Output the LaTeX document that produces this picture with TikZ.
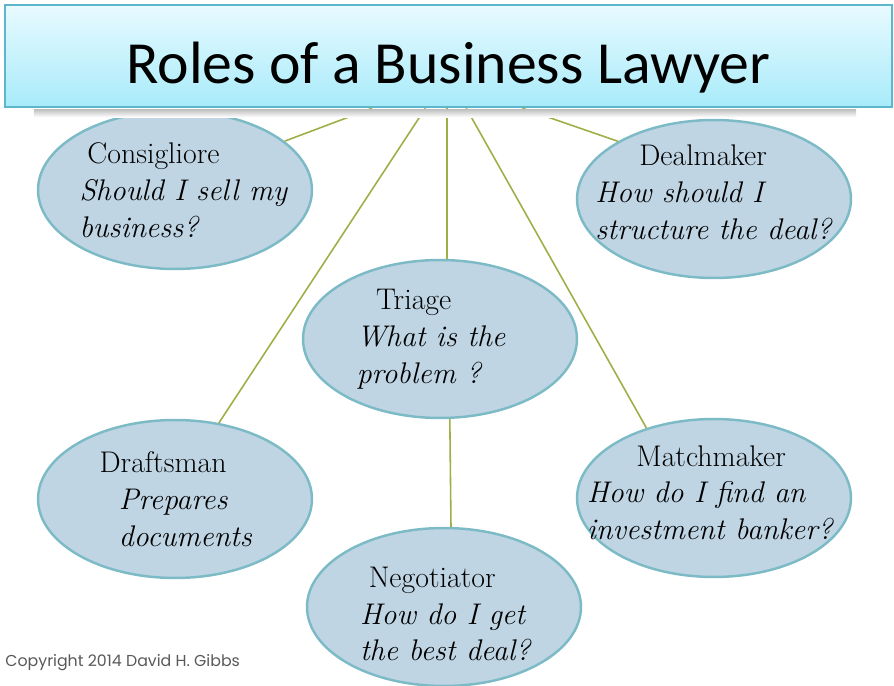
\documentclass[tikz,border=0pt]{standalone}
\usepackage{fontspec}
\usetikzlibrary{shapes.geometric,calc}
\newfontfamily\titlefont{Carlito}
\newfontfamily\copyfont{Poppins}
\definecolor{boxtop}{HTML}{E8FAFF}
\definecolor{boxbot}{HTML}{A8EBFA}
\definecolor{boxline}{HTML}{5DB6CA}
\definecolor{ovalfill}{HTML}{BFD5E4}
\definecolor{ovalline}{HTML}{7CBBC6}
\definecolor{linkcol}{HTML}{9DAF45}
\tikzset{
  role/.style={ellipse, draw=ovalline, fill=ovalfill, line width=1.4pt,
    minimum width=5.48cm, minimum height=3.16cm, inner sep=0pt},
  roletext/.style={align=left, inner sep=0pt, font=\fontsize{17}{21}\selectfont},
  link/.style={draw=linkcol, line width=0.9pt}
}

\begin{document}
\begin{tikzpicture}[x=0.02cm,y=-0.02cm]
  \useasboundingbox (0,0) rectangle (894,686);
  % title bar
  \node[draw=boxline, line width=1.5pt, top color=boxtop, bottom color=boxbot,
    minimum width=17.74cm, minimum height=2.04cm, text height=31pt, text depth=0pt,
    font=\titlefont\fontsize{34}{38}\selectfont] (title) at (448.5,56) {Roles of a Business Lawyer};
  % the roles
  \node[role] (consig) at (175,190) {};
  \node[role] (deal) at (714,199) {};
  \node[role] (triage) at (440,339) {};
  \node[role] (draft) at (175,499) {};
  \node[role] (match) at (714,498) {};
  \node[role] (nego) at (444,607) {};
  \node[roletext] (consigtext) at ([xshift=5pt]consig.center) {\hspace*{4.5pt}Consigliore\\ \textit{Should I sell my}\\ \textit{business?}};
  \node[roletext] (dealtext) at ([yshift=4pt]deal.center) {\hspace*{25pt}Dealmaker\\ \textit{How should I}\\ \textit{structure the deal?}};
  \node[roletext] (triagetext) at ([xshift=-5pt]triage.center) {\hspace*{11pt}Triage\\ \textit{What is the}\\ \textit{problem ?}};
  \node[roletext] (drafttext) at ([xshift=0.5pt]draft.center) {Draftsman\\ \hspace*{11pt}\textit{Prepares}\\ \hspace*{11pt}\textit{documents}};
  \node[roletext] (matchtext) at ([xshift=-2pt,yshift=3pt]match.center) {\hspace*{28pt}Matchmaker\\ \textit{How do I find an}\\ \textit{investment banker?}};
  \node[roletext] (negotext) at ([xshift=1pt,yshift=-4pt]nego.center) {\hspace*{5pt}Negotiator\\ \textit{How do I get}\\ \textit{the best deal?}};
  % start points on the title bar
  \coordinate (t1) at ($(title.south west)!0.414!(title.south east)$);
  \coordinate (t2) at ($(title.south west)!0.474!(title.south east)$);
  \coordinate (t3) at ($(title.south west)!0.498!(title.south east)$);
  \coordinate (t4) at ($(title.south west)!0.520!(title.south east)$);
  \coordinate (t5) at ($(title.south west)!0.583!(title.south east)$);
  % connectors
  \draw[link] (t1) -- (consig.24);
  \draw[link] (t2) -- (draft.60);
  \draw[link] (t3) -- (t3 |- triage.north);
  \draw[link] (t4) -- (match.134);
  \draw[link] (t5) -- (deal.149);
  \draw[link] (triage.-83) -- (nego.85);
  % shadow under the title bar
  \shade[top color=black!25, bottom color=white] ($(title.south west)+(30,1)$) rectangle ($(title.south east)+(-37,9)$);
  \node[anchor=base west, font=\copyfont\fontsize{9}{11}\selectfont, text=black!65, inner sep=0pt] (copy) at (5,666) {Copyright 2014 David H. Gibbs};
\end{tikzpicture}
\end{document}
